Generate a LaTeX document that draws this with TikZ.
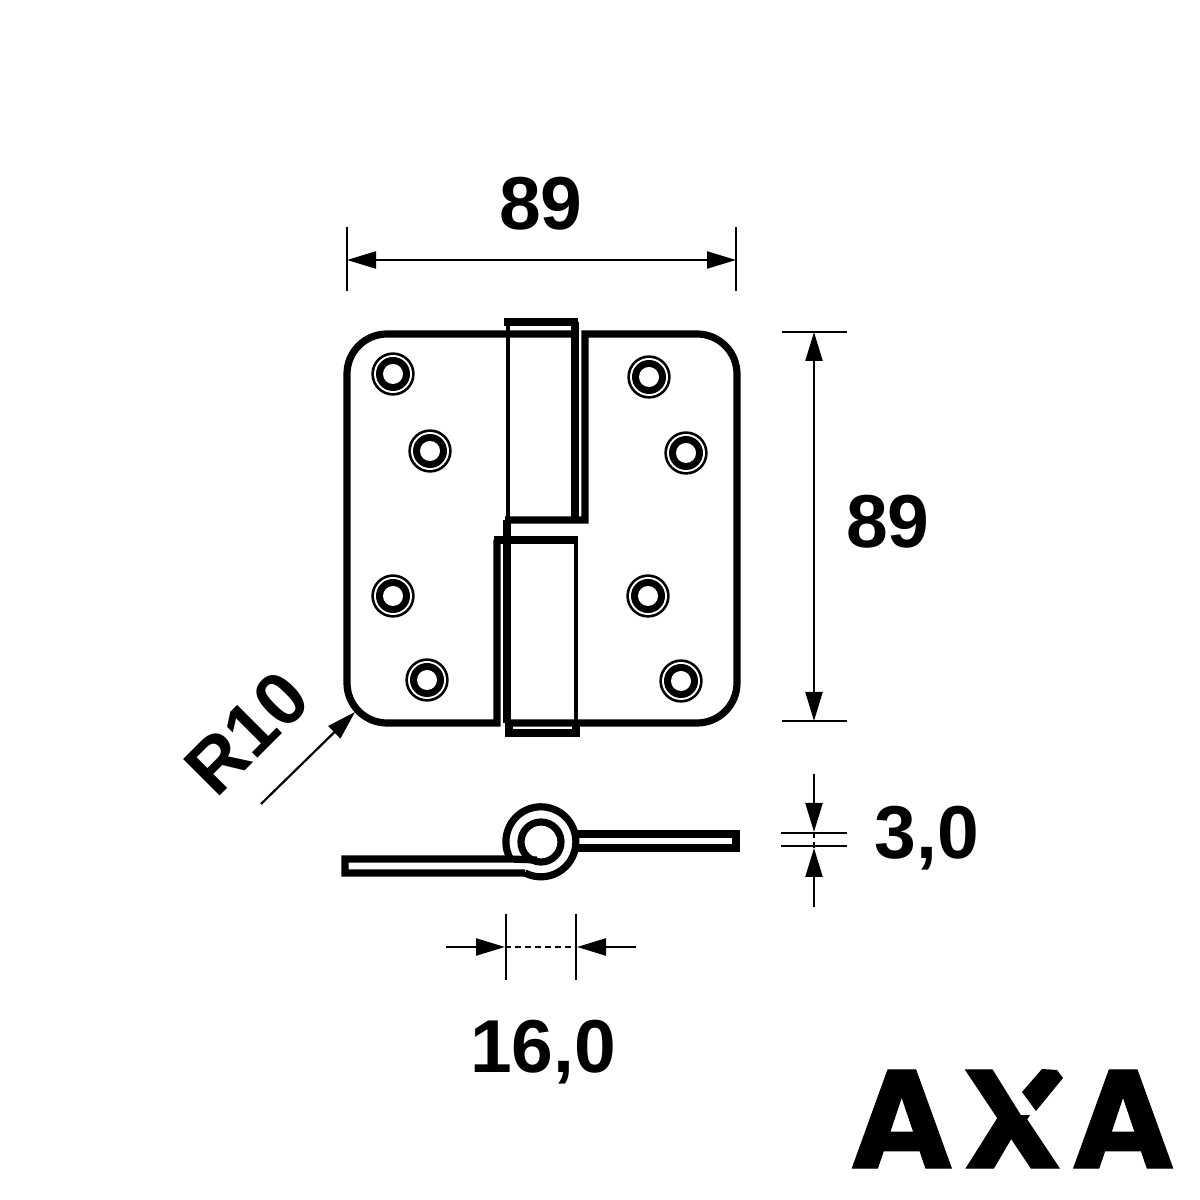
\documentclass[tikz,border=0pt]{standalone}
\usepackage{fontspec}
\setmainfont{Liberation Sans}
\newfontfamily\logofont{Poppins}[UprightFont=* Bold, Kerning=Off, FakeBold=0.8, LetterSpace=6.5]
\usetikzlibrary{arrows.meta}

\begin{document}
\begin{tikzpicture}[x=0.5pt, y=0.5pt, >={Triangle[length=14.5pt,width=8.5pt]},
		plate/.style={line width=3.6pt, miter limit=4},
		thinwall/.style={line width=2.2pt},
		dim/.style={line width=1.1pt},
		dimlabel/.style={font=\fontsize{37.5}{37.5}\selectfont\bfseries, inner sep=0pt}]
		\useasboundingbox (0,0) rectangle (1200,1200);

		% Left leaf and top knuckle
		\draw[plate] (497,660) -- (497,477) [rounded corners=20pt] -- (347,477) -- (347,866) [sharp corners] -- (575,866);
		\draw[plate] (504,878) -- (578,878);
		\draw[thinwall] (508,878) -- (508,680);
		\draw[plate] (575,878) -- (575,680);

		% Right leaf
		\draw[plate] (505,680) -- (585,680) -- (585,866) [rounded corners=20pt] -- (737,866) -- (737,477) [sharp corners] -- (505,477);

		% Bottom knuckle
		\draw[plate] (494,660) -- (578,660);
		\draw[plate] (507,680) -- (507,477);
		\draw[thinwall] (576,660) -- (576,477);
		\draw[plate] (509,477) -- (509,467) -- (576,467) -- (576,477);

		% Screw holes
		\foreach \sx/\sy in {393/826, 430/749, 393/604, 427/520, 649/823, 686/747, 648/604, 681/519} {
			\fill[black] (\sx,\sy) circle[radius=21.7];
			\fill[white] (\sx,\sy) circle[radius=19];
			\fill[black] (\sx,\sy) circle[radius=17];
			\fill[white] (\sx,\sy) circle[radius=10];
		}

		% Side view
		\draw[plate] (541,358) circle[radius=20];
		\draw[plate] (575,366) -- (736,366) -- (736,352) -- (575,352);
		\draw[plate] (537,340) -- (510,341) -- (345,341) -- (345,327) -- (525,327);
		\draw[plate] (525,327) arc[start angle=243, end angle=569, radius=35];

		% Width
		\coordinate (w1) at (347,940);
		\coordinate (w2) at (736,940);
		\draw[dim] (347,973) -- (347,909);
		\draw[dim] (736,973) -- (736,909);
		\draw[dim,<->] (w1) -- (w2);
		\node[dimlabel] (width) at (541,996) {89};

		% Height
		\coordinate (h1) at (814,868);
		\coordinate (h2) at (814,479);
		\draw[dim] (782,868) -- (847,868);
		\draw[dim] (782,479) -- (847,479);
		\draw[dim,<->] (h1) -- (h2);
		\node[dimlabel] (height) at (888,678) {89};

		% Radius
		\coordinate (r1) at (261,396);
		\coordinate (r2) at (355,488);
		\draw[dim,->] (r1) -- (r2);
		\node[dimlabel, rotate=45] (radius) at (247,467) {R10};

		% Thickness
		\coordinate (t1) at (814,426);
		\coordinate (t2) at (814,368);
		\coordinate (t3) at (814,293);
		\coordinate (t4) at (814,352);
		\draw[dim] (781,367) -- (847,367);
		\draw[dim] (781,354) -- (847,354);
		\draw[dim,->] (t1) -- (t2);
		\draw[dim,->] (t3) -- (t4);
		\draw[dim,densely dashed] (t2) -- (t4);
		\node[dimlabel] (thick) at (927,362) {3,0};

		% Knuckle diameter
		\coordinate (k1) at (446,253);
		\coordinate (k2) at (505,253);
		\coordinate (k3) at (636,253);
		\coordinate (k4) at (577,253);
		\draw[dim] (506,286) -- (506,220);
		\draw[dim] (576,286) -- (576,220);
		\draw[dim,->] (k1) -- (k2);
		\draw[dim,->] (k3) -- (k4);
		\draw[dim,densely dashed] (k2) -- (k4);
		\node[dimlabel] (knuckle) at (543,148) {16,0};

		% Logo
		\node[inner sep=0pt, font=\fontsize{70}{70}\logofont] (logo) at (1012.5,81) {AXA};
		\fill[white] (990,135) -- (1021,85) -- (1060,85) -- (1072,135) -- cycle;
		\fill[black] (1022,108) -- (1036,89) -- (1063,122) -- (1057,130) -- (1042,131) -- cycle;
	\end{tikzpicture}
\end{document}
